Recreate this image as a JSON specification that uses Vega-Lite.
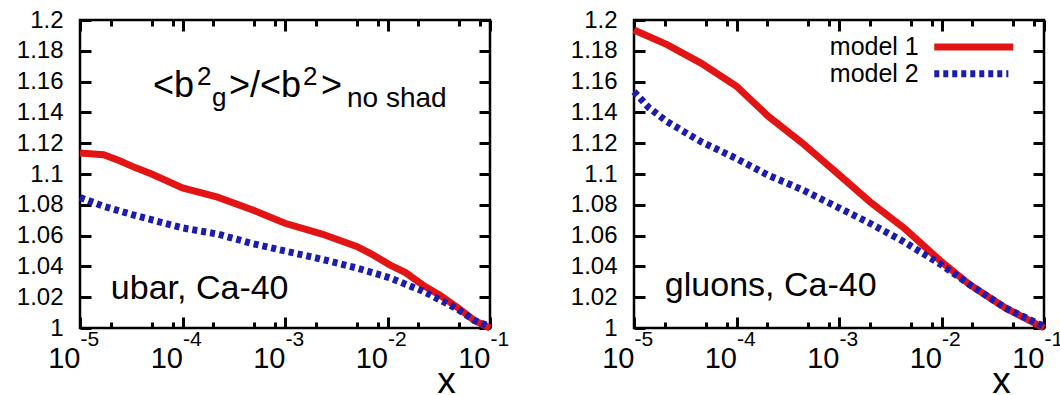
{
  "$schema": "https://vega.github.io/schema/vega-lite/v6.json",
  "background": "white",
  "bounds": "flush",
  "spacing": 144,
  "padding": {"left": 15, "top": 6, "right": 5, "bottom": 0},
  "datasets": {
    "curves": [
      {"panel": "ubar", "model": "model 1", "x": 0.00001, "y": 1.1137},
      {"panel": "ubar", "model": "model 1", "x": 0.000017, "y": 1.1125},
      {"panel": "ubar", "model": "model 1", "x": 0.000024, "y": 1.1087},
      {"panel": "ubar", "model": "model 1", "x": 0.000035, "y": 1.104},
      {"panel": "ubar", "model": "model 1", "x": 0.00005, "y": 1.1},
      {"panel": "ubar", "model": "model 1", "x": 0.0001, "y": 1.091},
      {"panel": "ubar", "model": "model 1", "x": 0.00022, "y": 1.085},
      {"panel": "ubar", "model": "model 1", "x": 0.00047, "y": 1.077},
      {"panel": "ubar", "model": "model 1", "x": 0.001, "y": 1.068},
      {"panel": "ubar", "model": "model 1", "x": 0.0023, "y": 1.061},
      {"panel": "ubar", "model": "model 1", "x": 0.005, "y": 1.053},
      {"panel": "ubar", "model": "model 1", "x": 0.007, "y": 1.048},
      {"panel": "ubar", "model": "model 1", "x": 0.0105, "y": 1.041},
      {"panel": "ubar", "model": "model 1", "x": 0.015, "y": 1.036},
      {"panel": "ubar", "model": "model 1", "x": 0.022, "y": 1.028},
      {"panel": "ubar", "model": "model 1", "x": 0.033, "y": 1.021},
      {"panel": "ubar", "model": "model 1", "x": 0.049, "y": 1.013},
      {"panel": "ubar", "model": "model 1", "x": 0.07, "y": 1.005},
      {"panel": "ubar", "model": "model 1", "x": 0.1, "y": 1.0},
      {"panel": "ubar", "model": "model 2", "x": 0.00001, "y": 1.0848},
      {"panel": "ubar", "model": "model 2", "x": 0.000017, "y": 1.079},
      {"panel": "ubar", "model": "model 2", "x": 0.000035, "y": 1.073},
      {"panel": "ubar", "model": "model 2", "x": 0.0001, "y": 1.065},
      {"panel": "ubar", "model": "model 2", "x": 0.00022, "y": 1.061},
      {"panel": "ubar", "model": "model 2", "x": 0.00047, "y": 1.055},
      {"panel": "ubar", "model": "model 2", "x": 0.001, "y": 1.05},
      {"panel": "ubar", "model": "model 2", "x": 0.0023, "y": 1.0446},
      {"panel": "ubar", "model": "model 2", "x": 0.005, "y": 1.039},
      {"panel": "ubar", "model": "model 2", "x": 0.0105, "y": 1.0326},
      {"panel": "ubar", "model": "model 2", "x": 0.022, "y": 1.024},
      {"panel": "ubar", "model": "model 2", "x": 0.033, "y": 1.018},
      {"panel": "ubar", "model": "model 2", "x": 0.049, "y": 1.012},
      {"panel": "ubar", "model": "model 2", "x": 0.07, "y": 1.005},
      {"panel": "ubar", "model": "model 2", "x": 0.1, "y": 1.001},
      {"panel": "gluons", "model": "model 1", "x": 0.00001, "y": 1.1935},
      {"panel": "gluons", "model": "model 1", "x": 0.000021, "y": 1.184},
      {"panel": "gluons", "model": "model 1", "x": 0.000045, "y": 1.172},
      {"panel": "gluons", "model": "model 1", "x": 0.0001, "y": 1.157},
      {"panel": "gluons", "model": "model 1", "x": 0.0002, "y": 1.138},
      {"panel": "gluons", "model": "model 1", "x": 0.00044, "y": 1.12},
      {"panel": "gluons", "model": "model 1", "x": 0.001, "y": 1.0995},
      {"panel": "gluons", "model": "model 1", "x": 0.002, "y": 1.082},
      {"panel": "gluons", "model": "model 1", "x": 0.0043, "y": 1.065},
      {"panel": "gluons", "model": "model 1", "x": 0.01, "y": 1.043},
      {"panel": "gluons", "model": "model 1", "x": 0.019, "y": 1.028},
      {"panel": "gluons", "model": "model 1", "x": 0.042, "y": 1.013},
      {"panel": "gluons", "model": "model 1", "x": 0.1, "y": 1.0},
      {"panel": "gluons", "model": "model 2", "x": 0.00001, "y": 1.1535},
      {"panel": "gluons", "model": "model 2", "x": 0.000014, "y": 1.143},
      {"panel": "gluons", "model": "model 2", "x": 0.000021, "y": 1.134},
      {"panel": "gluons", "model": "model 2", "x": 0.000045, "y": 1.121},
      {"panel": "gluons", "model": "model 2", "x": 0.0001, "y": 1.11},
      {"panel": "gluons", "model": "model 2", "x": 0.0002, "y": 1.0995},
      {"panel": "gluons", "model": "model 2", "x": 0.00044, "y": 1.0897},
      {"panel": "gluons", "model": "model 2", "x": 0.001, "y": 1.078},
      {"panel": "gluons", "model": "model 2", "x": 0.002, "y": 1.068},
      {"panel": "gluons", "model": "model 2", "x": 0.0043, "y": 1.056},
      {"panel": "gluons", "model": "model 2", "x": 0.01, "y": 1.041},
      {"panel": "gluons", "model": "model 2", "x": 0.019, "y": 1.028},
      {"panel": "gluons", "model": "model 2", "x": 0.042, "y": 1.013},
      {"panel": "gluons", "model": "model 2", "x": 0.1, "y": 1.001}
    ]
  },
  "hconcat": [
    {
      "width": 410,
      "height": 308,
      "layer": [
        {
          "data": {"name": "curves"},
          "transform": [{"filter": "datum.panel === 'ubar' && datum.model === 'model 1'"}],
          "mark": {"type": "line", "strokeWidth": 7, "color": "#e31414"},
          "encoding": {
            "x": {"field": "x", "type": "quantitative", "scale": {"type": "log", "domain": [0.00001, 0.1], "nice": false},
              "axis": {"orient": "bottom", "offset": -11, "values": [0.00001, 0.0001, 0.001, 0.01, 0.1], "tickSize": 11, "tickWidth": 3, "tickColor": "#000", "domain": false, "grid": false, "labelExpr": "'10'", "labelFontSize": 29, "labelAlign": "right", "labelBaseline": "alphabetic", "labelDx": 9, "labelPadding": 39, "labelFlush": false, "labelOverlap": false, "labelColor": "#000", "title": "x", "titleFontSize": 37, "titleFontWeight": "normal", "titleX": 366, "titleY": 75, "titleAlign": "center", "titleBaseline": "alphabetic", "titleColor": "#000"}},
            "y": {"field": "y", "type": "quantitative", "scale": {"domain": [1, 1.2], "zero": false, "nice": false},
              "axis": {"orient": "left", "offset": -11, "values": [1, 1.02, 1.04, 1.06, 1.08, 1.1, 1.12, 1.14, 1.16, 1.18, 1.2], "format": "~g", "tickSize": 11, "tickWidth": 3, "tickColor": "#000", "domain": false, "grid": false, "labelFontSize": 24, "labelPadding": 17, "labelFlush": false, "labelOverlap": false, "labelAlign": "right", "labelBaseline": "middle", "labelColor": "#000", "title": null}}
          }
        },
        {
          "data": {"name": "curves"},
          "transform": [{"filter": "datum.panel === 'ubar' && datum.model === 'model 2'"}],
          "mark": {"type": "line", "strokeWidth": 7, "color": "#1c1cb0", "strokeDash": [5, 4]},
          "encoding": {
            "x": {"field": "x", "type": "quantitative", "axis": {"orient": "bottom", "offset": -6, "values": [0.00002, 0.00005, 0.00008, 0.0002, 0.0005, 0.0008, 0.002, 0.005, 0.008, 0.02, 0.05, 0.08], "tickSize": 6, "tickWidth": 3, "tickColor": "#000", "labels": false, "domain": false, "grid": false, "title": null}},
            "y": {"field": "y", "type": "quantitative", "axis": {"orient": "right", "offset": -11, "values": [1, 1.02, 1.04, 1.06, 1.08, 1.1, 1.12, 1.14, 1.16, 1.18, 1.2], "tickSize": 11, "tickWidth": 3, "tickColor": "#000", "labels": false, "domain": false, "grid": false, "title": null}}
          }
        },
        {
          "data": {"name": "curves"},
          "transform": [{"filter": "datum.panel === 'ubar'"}],
          "mark": {"type": "point", "opacity": 0},
          "encoding": {
            "x": {"field": "x", "type": "quantitative", "axis": {"orient": "top", "offset": -11, "values": [0.00001, 0.0001, 0.001, 0.01, 0.1], "tickSize": 11, "tickWidth": 3, "tickColor": "#000", "labels": false, "domain": false, "grid": false, "title": null}},
            "y": {"field": "y", "type": "quantitative", "axis": null}
          }
        },
        {
          "data": {"name": "curves"},
          "transform": [{"filter": "datum.panel === 'ubar'"}],
          "mark": {"type": "point", "opacity": 0},
          "encoding": {
            "x": {"field": "x", "type": "quantitative", "axis": {"orient": "top", "offset": -6, "values": [0.00002, 0.00005, 0.00008, 0.0002, 0.0005, 0.0008, 0.002, 0.005, 0.008, 0.02, 0.05, 0.08], "tickSize": 6, "tickWidth": 3, "tickColor": "#000", "labels": false, "domain": false, "grid": false, "title": null}},
            "y": {"field": "y", "type": "quantitative", "axis": null}
          }
        },
        {
          "data": {"name": "curves"},
          "transform": [{"filter": "datum.panel === 'ubar'"}],
          "mark": {"type": "point", "opacity": 0},
          "encoding": {
            "x": {"field": "x", "type": "quantitative", "axis": {"orient": "bottom", "values": [0.00001, 0.0001, 0.001, 0.01, 0.1], "ticks": false, "domain": false, "grid": false, "labelExpr": "'-' + round(-log(datum.value) / LN10)", "labelFontSize": 21, "labelAlign": "left", "labelBaseline": "alphabetic", "labelDx": 6, "labelPadding": 17, "labelFlush": false, "labelOverlap": false, "labelColor": "#000", "title": null}},
            "y": {"field": "y", "type": "quantitative", "axis": null}
          }
        },
        {
          "data": {"values": [{"note": "ubar, Ca-40"}]},
          "mark": {"type": "text", "align": "left", "baseline": "alphabetic", "fontSize": 34},
          "encoding": {"x": {"datum": 0.00002, "type": "quantitative", "axis": null}, "y": {"datum": 1.0188, "type": "quantitative", "axis": null}, "text": {"field": "note"}}
        },
        {
          "data": {"values": [{"note": "<b"}]},
          "mark": {"type": "text", "align": "left", "baseline": "alphabetic", "fontSize": 36},
          "encoding": {"x": {"datum": 0.0000515, "type": "quantitative", "axis": null}, "y": {"datum": 1.1503, "type": "quantitative", "axis": null}, "text": {"field": "note"}}
        },
        {
          "data": {"values": [{"note": "2"}]},
          "mark": {"type": "text", "align": "left", "baseline": "alphabetic", "fontSize": 26, "dx": 44, "dy": -12},
          "encoding": {"x": {"datum": 0.0000515, "type": "quantitative", "axis": null}, "y": {"datum": 1.1503, "type": "quantitative", "axis": null}, "text": {"field": "note"}}
        },
        {
          "data": {"values": [{"note": "g"}]},
          "mark": {"type": "text", "align": "left", "baseline": "alphabetic", "fontSize": 26, "dx": 59, "dy": 9},
          "encoding": {"x": {"datum": 0.0000515, "type": "quantitative", "axis": null}, "y": {"datum": 1.1503, "type": "quantitative", "axis": null}, "text": {"field": "note"}}
        },
        {
          "data": {"values": [{"note": ">/<b"}]},
          "mark": {"type": "text", "align": "left", "baseline": "alphabetic", "fontSize": 36, "dx": 76},
          "encoding": {"x": {"datum": 0.0000515, "type": "quantitative", "axis": null}, "y": {"datum": 1.1503, "type": "quantitative", "axis": null}, "text": {"field": "note"}}
        },
        {
          "data": {"values": [{"note": "2"}]},
          "mark": {"type": "text", "align": "left", "baseline": "alphabetic", "fontSize": 26, "dx": 150, "dy": -12},
          "encoding": {"x": {"datum": 0.0000515, "type": "quantitative", "axis": null}, "y": {"datum": 1.1503, "type": "quantitative", "axis": null}, "text": {"field": "note"}}
        },
        {
          "data": {"values": [{"note": ">"}]},
          "mark": {"type": "text", "align": "left", "baseline": "alphabetic", "fontSize": 36, "dx": 168},
          "encoding": {"x": {"datum": 0.0000515, "type": "quantitative", "axis": null}, "y": {"datum": 1.1503, "type": "quantitative", "axis": null}, "text": {"field": "note"}}
        },
        {
          "data": {"values": [{"note": "no shad"}]},
          "mark": {"type": "text", "align": "left", "baseline": "alphabetic", "fontSize": 28, "dx": 194, "dy": 10},
          "encoding": {"x": {"datum": 0.0000515, "type": "quantitative", "axis": null}, "y": {"datum": 1.1503, "type": "quantitative", "axis": null}, "text": {"field": "note"}}
        }
      ],
      "resolve": {"axis": {"x": "independent", "y": "independent"}}
    },
    {
      "width": 410,
      "height": 308,
      "layer": [
        {
          "data": {"name": "curves"},
          "transform": [{"filter": "datum.panel === 'gluons' && datum.model === 'model 1'"}],
          "mark": {"type": "line", "strokeWidth": 7, "color": "#e31414"},
          "encoding": {
            "x": {"field": "x", "type": "quantitative", "scale": {"type": "log", "domain": [0.00001, 0.1], "nice": false},
              "axis": {"orient": "bottom", "offset": -11, "values": [0.00001, 0.0001, 0.001, 0.01, 0.1], "tickSize": 11, "tickWidth": 3, "tickColor": "#000", "domain": false, "grid": false, "labelExpr": "'10'", "labelFontSize": 29, "labelAlign": "right", "labelBaseline": "alphabetic", "labelDx": 9, "labelPadding": 39, "labelFlush": false, "labelOverlap": false, "labelColor": "#000", "title": "x", "titleFontSize": 37, "titleFontWeight": "normal", "titleX": 367, "titleY": 75, "titleAlign": "center", "titleBaseline": "alphabetic", "titleColor": "#000"}},
            "y": {"field": "y", "type": "quantitative", "scale": {"domain": [1, 1.2], "zero": false, "nice": false},
              "axis": {"orient": "left", "offset": -11, "values": [1, 1.02, 1.04, 1.06, 1.08, 1.1, 1.12, 1.14, 1.16, 1.18, 1.2], "format": "~g", "tickSize": 11, "tickWidth": 3, "tickColor": "#000", "domain": false, "grid": false, "labelFontSize": 24, "labelPadding": 17, "labelFlush": false, "labelOverlap": false, "labelAlign": "right", "labelBaseline": "middle", "labelColor": "#000", "title": null}}
          }
        },
        {
          "data": {"name": "curves"},
          "transform": [{"filter": "datum.panel === 'gluons' && datum.model === 'model 2'"}],
          "mark": {"type": "line", "strokeWidth": 7, "color": "#1c1cb0", "strokeDash": [5, 4]},
          "encoding": {
            "x": {"field": "x", "type": "quantitative", "axis": {"orient": "bottom", "offset": -6, "values": [0.00002, 0.00005, 0.00008, 0.0002, 0.0005, 0.0008, 0.002, 0.005, 0.008, 0.02, 0.05, 0.08], "tickSize": 6, "tickWidth": 3, "tickColor": "#000", "labels": false, "domain": false, "grid": false, "title": null}},
            "y": {"field": "y", "type": "quantitative", "axis": {"orient": "right", "offset": -11, "values": [1, 1.02, 1.04, 1.06, 1.08, 1.1, 1.12, 1.14, 1.16, 1.18, 1.2], "tickSize": 11, "tickWidth": 3, "tickColor": "#000", "labels": false, "domain": false, "grid": false, "title": null}}
          }
        },
        {
          "data": {"name": "curves"},
          "transform": [{"filter": "datum.panel === 'gluons'"}],
          "mark": {"type": "point", "opacity": 0},
          "encoding": {
            "x": {"field": "x", "type": "quantitative", "axis": {"orient": "top", "offset": -11, "values": [0.00001, 0.0001, 0.001, 0.01, 0.1], "tickSize": 11, "tickWidth": 3, "tickColor": "#000", "labels": false, "domain": false, "grid": false, "title": null}},
            "y": {"field": "y", "type": "quantitative", "axis": null}
          }
        },
        {
          "data": {"name": "curves"},
          "transform": [{"filter": "datum.panel === 'gluons'"}],
          "mark": {"type": "point", "opacity": 0},
          "encoding": {
            "x": {"field": "x", "type": "quantitative", "axis": {"orient": "top", "offset": -6, "values": [0.00002, 0.00005, 0.00008, 0.0002, 0.0005, 0.0008, 0.002, 0.005, 0.008, 0.02, 0.05, 0.08], "tickSize": 6, "tickWidth": 3, "tickColor": "#000", "labels": false, "domain": false, "grid": false, "title": null}},
            "y": {"field": "y", "type": "quantitative", "axis": null}
          }
        },
        {
          "data": {"name": "curves"},
          "transform": [{"filter": "datum.panel === 'gluons'"}],
          "mark": {"type": "point", "opacity": 0},
          "encoding": {
            "x": {"field": "x", "type": "quantitative", "axis": {"orient": "bottom", "values": [0.00001, 0.0001, 0.001, 0.01, 0.1], "ticks": false, "domain": false, "grid": false, "labelExpr": "'-' + round(-log(datum.value) / LN10)", "labelFontSize": 21, "labelAlign": "left", "labelBaseline": "alphabetic", "labelDx": 6, "labelPadding": 17, "labelFlush": false, "labelOverlap": false, "labelColor": "#000", "title": null}},
            "y": {"field": "y", "type": "quantitative", "axis": null}
          }
        },
        {
          "data": {"values": [{"note": "gluons, Ca-40"}]},
          "mark": {"type": "text", "align": "left", "baseline": "alphabetic", "fontSize": 34},
          "encoding": {"x": {"datum": 0.00002, "type": "quantitative", "axis": null}, "y": {"datum": 1.0208, "type": "quantitative", "axis": null}, "text": {"field": "note"}}
        },
        {
          "data": {"values": [{"model": "model 1"}]},
          "mark": {"type": "text", "align": "right", "baseline": "middle", "fontSize": 25},
          "encoding": {"x": {"datum": 0.006, "type": "quantitative", "axis": null}, "y": {"datum": 1.1825, "type": "quantitative", "axis": null}, "text": {"field": "model"}}
        },
        {
          "data": {"values": [{"model": "model 2"}]},
          "mark": {"type": "text", "align": "right", "baseline": "middle", "fontSize": 25},
          "encoding": {"x": {"datum": 0.006, "type": "quantitative", "axis": null}, "y": {"datum": 1.1651, "type": "quantitative", "axis": null}, "text": {"field": "model"}}
        },
        {
          "data": {"values": [{"model": "model 1"}]},
          "mark": {"type": "rule", "strokeWidth": 7, "color": "#e31414"},
          "encoding": {"x": {"datum": 0.0085, "type": "quantitative", "axis": null}, "x2": {"datum": 0.0501}, "y": {"datum": 1.1825, "type": "quantitative", "axis": null}}
        },
        {
          "data": {"values": [{"model": "model 2"}]},
          "mark": {"type": "rule", "strokeWidth": 7, "color": "#1c1cb0", "strokeDash": [5, 4]},
          "encoding": {"x": {"datum": 0.0085, "type": "quantitative", "axis": null}, "x2": {"datum": 0.0449}, "y": {"datum": 1.1651, "type": "quantitative", "axis": null}}
        }
      ],
      "resolve": {"axis": {"x": "independent", "y": "independent"}}
    }
  ],
  "config": {
    "font": "Liberation Sans",
    "view": {"stroke": "#000", "strokeWidth": 2.5}
  }
}
